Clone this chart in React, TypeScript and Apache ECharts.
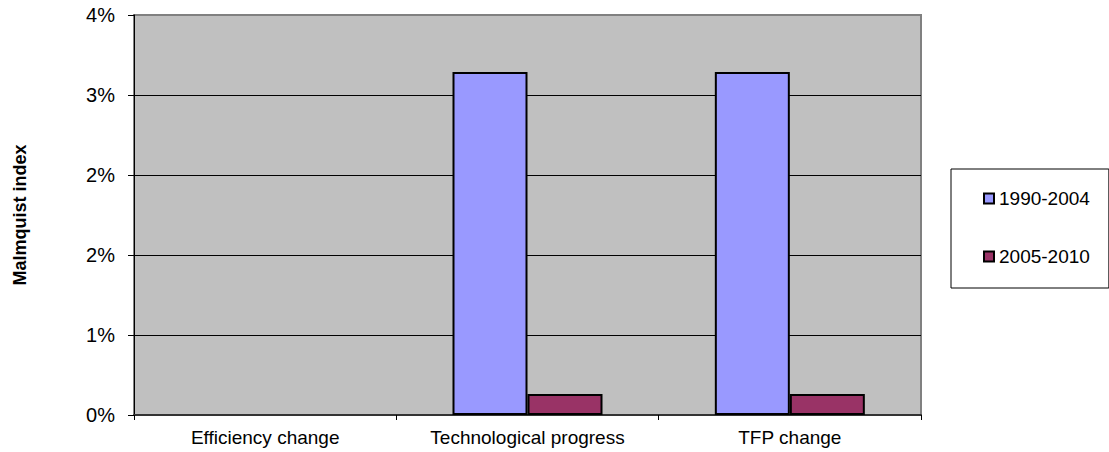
import React, { useEffect, useRef } from "react";
import * as echarts from "echarts";

const categories = ["Efficiency change", "Technological progress", "TFP change"];
const series1990 = [0, 3.43, 3.43];
const series2005 = [0, 0.21, 0.21];
const seriesNames = ["1990-2004", "2005-2010"];

const FONT = "'Liberation Sans', Arial, sans-serif";

const toData = (arr: number[]) =>
  arr.map((v) => (v === 0 ? { value: v, itemStyle: { borderWidth: 0 } } : v));

export default function App() {
  const ref = useRef<HTMLDivElement>(null);
  useEffect(() => {
    const chart = echarts.init(ref.current!, null, { renderer: "svg" });
    chart.setOption({
      animation: false,
      textStyle: { fontFamily: FONT },
      grid: {
        left: 134,
        top: 15,
        right: 188,
        bottom: 37,
        containLabel: false,
        show: true,
        backgroundColor: "#C0C0C0",
        borderColor: "#808080",
        borderWidth: 2,
      },
      legend: {
        orient: "vertical",
        left: 951,
        top: 169,
        padding: [20, 19, 22, 32],
        itemGap: 39,
        itemWidth: 10,
        itemHeight: 10,
        icon: "rect",
        borderColor: "#000",
        borderWidth: 1,
        backgroundColor: "#fff",
        textStyle: { fontFamily: FONT, fontSize: 19, lineHeight: 19, color: "#000" },
        data: seriesNames,
      },
      xAxis: {
        type: "category",
        data: categories,
        boundaryGap: true,
        axisLine: { show: true, lineStyle: { color: "#333", width: 2 } },
        axisTick: { show: true, length: 5, lineStyle: { color: "#000" } },
        axisLabel: {
          fontFamily: FONT,
          fontSize: 19,
          color: "#000",
          margin: 13,
          interval: 0,
          hideOverlap: false,
        },
        splitLine: { show: false },
      },
      yAxis: {
        type: "value",
        min: 0,
        max: 4,
        interval: 0.8,
        name: "Malmquist index",
        nameLocation: "middle",
        nameRotate: 90,
        nameGap: 105,
        nameTextStyle: { fontFamily: FONT, fontSize: 18, fontWeight: "bold", color: "#000" },
        axisLine: { show: true, lineStyle: { color: "#000", width: 1 } },
        axisTick: { show: true, length: 6, lineStyle: { color: "#000" } },
        axisLabel: {
          fontFamily: FONT,
          fontSize: 20,
          color: "#000",
          margin: 19,
          formatter: (v: number) => Math.round(v) + "%",
        },
        splitLine: { show: true, showMaxLine: false, lineStyle: { color: "#000", width: 1 } },
      },
      series: [
        {
          name: seriesNames[0],
          type: "bar",
          data: toData(series1990),
          barWidth: 75,
          barGap: "0%",
          itemStyle: { color: "#9999FF", borderColor: "#000", borderWidth: 2 },
        },
        {
          name: seriesNames[1],
          type: "bar",
          data: toData(series2005),
          barWidth: 75,
          barGap: "0%",
          itemStyle: { color: "#993366", borderColor: "#000", borderWidth: 2 },
        },
      ],
    });
    return () => chart.dispose();
  }, []);
  return <div ref={ref} style={{ width: 1109, height: 452, position: "absolute", left: 0, top: 0 }} />;
}
